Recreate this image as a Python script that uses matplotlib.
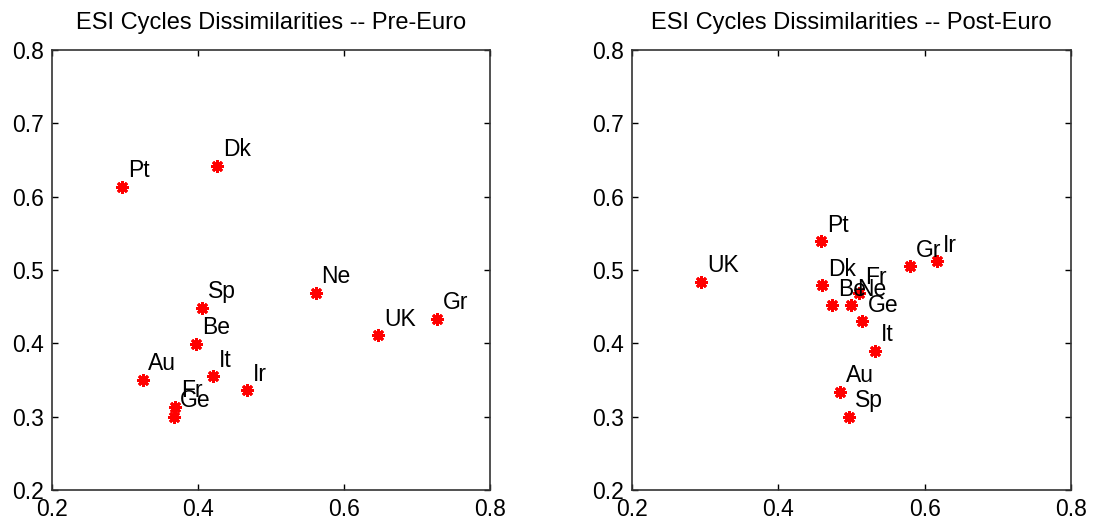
"""ESI cycle dissimilarities, pre- and post-euro scatter panels."""

import matplotlib

matplotlib.use("Agg")
import matplotlib.pyplot as plt

plt.rcParams["font.family"] = ["Liberation Sans", "DejaVu Sans"]

PRE_LABELS = ["Pt", "Dk", "Sp", "Ne", "UK", "Gr", "Be", "Au", "It", "Ir", "Fr", "Ge"]
PRE_X = [0.296, 0.426, 0.405, 0.561, 0.647, 0.728, 0.397, 0.324, 0.420, 0.467, 0.369, 0.367]
PRE_Y = [0.613, 0.642, 0.448, 0.469, 0.411, 0.433, 0.399, 0.350, 0.355, 0.336, 0.313, 0.300]

POST_LABELS = ["UK", "Pt", "Dk", "Be", "Ne", "Fr", "Ge", "It", "Au", "Sp", "Gr", "Ir"]
POST_X = [0.295, 0.459, 0.460, 0.474, 0.500, 0.511, 0.515, 0.532, 0.484, 0.497, 0.580, 0.617]
POST_Y = [0.484, 0.539, 0.479, 0.452, 0.452, 0.468, 0.430, 0.390, 0.334, 0.300, 0.505, 0.512]

TITLES = ["ESI Cycles Dissimilarities -- Pre-Euro", "ESI Cycles Dissimilarities -- Post-Euro"]
X_TICKS = [0.2, 0.4, 0.6, 0.8]
Y_TICKS = [0.2, 0.3, 0.4, 0.5, 0.6, 0.7, 0.8]


def draw_panel(axis, xs, ys, labels, title):
    axis.plot(xs, ys, linestyle="none", marker="o", color="red", markersize=5.5)
    axis.plot(xs, ys, linestyle="none", marker=(8, 2, 0), color="red",
              markersize=9, markeredgewidth=2)
    for x, y, name in zip(xs, ys, labels):
        axis.text(x + 0.008, y + 0.022, name, ha="left", va="center", fontsize=16.5)
    axis.set_xlim(0.2, 0.8)
    axis.set_ylim(0.2, 0.8)
    axis.set_xticks(X_TICKS)
    axis.set_yticks(Y_TICKS)
    axis.set_xticklabels([f"{t:g}" for t in X_TICKS])
    axis.set_yticklabels([f"{t:g}" for t in Y_TICKS])
    axis.tick_params(direction="in", top=True, right=True, labelsize=16.5,
                     length=4, width=1, pad=6)
    for spine in axis.spines.values():
        spine.set_linewidth(1.2)
        spine.set_color("#333333")
    axis.set_title(title, fontsize=17, pad=15)


fig = plt.figure(figsize=(10.93, 5.27), dpi=100)
ax_pre = fig.add_axes([0.0476, 0.0702, 0.4007, 0.835])
ax_post = fig.add_axes([0.5782, 0.0702, 0.4016, 0.835])

draw_panel(ax_pre, PRE_X, PRE_Y, PRE_LABELS, TITLES[0])
draw_panel(ax_post, POST_X, POST_Y, POST_LABELS, TITLES[1])

fig.savefig("out.png", dpi=100)
